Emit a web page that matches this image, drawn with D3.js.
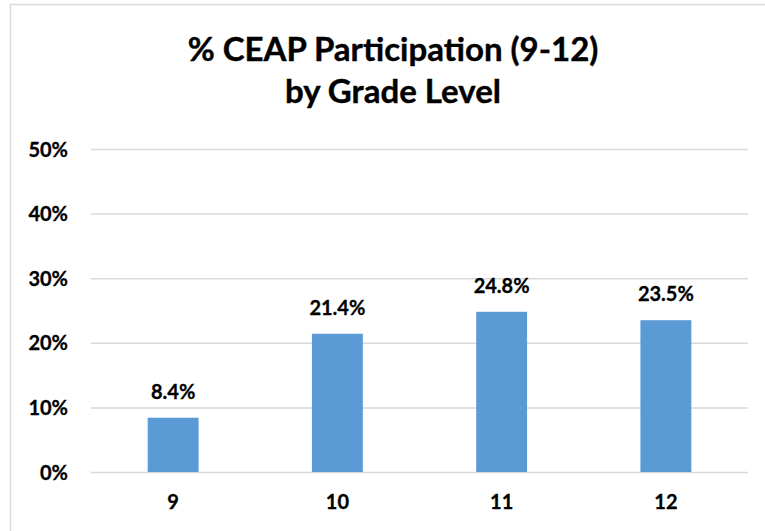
<!DOCTYPE html>
<html>
<head>
<meta charset="utf-8">
<script src="https://cdn.jsdelivr.net/npm/d3@7"></script>
<style>
	html, body { margin: 0; padding: 0; background: #fff; }
	text { font-family: Lato, "Open Sans", sans-serif; font-weight: bold; fill: #000; }
</style>
</head>
<body>
<svg id="chart" width="765" height="531"></svg>
<script>
var grades = [ '9', '10', '11', '12' ];
var participation = [ 0.084, 0.214, 0.248, 0.235 ];
var valueLabels = [ '8.4%', '21.4%', '24.8%', '23.5%' ];
var yTicks = [ 0, 0.1, 0.2, 0.3, 0.4, 0.5 ];
var titleLines = [ '% CEAP Participation (9-12)', 'by Grade Level' ];

var svg = d3.select( '#chart' );

// chart frame, runs off the right and bottom edges like the screenshot
svg.append( 'rect' )
	.attr( 'x', 10.5 ).attr( 'y', 4.5 )
	.attr( 'width', 900 ).attr( 'height', 700 )
	.style( 'fill', '#fff' ).style( 'stroke', '#d9d9d9' ).style( 'stroke-width', 1.5 );

var x = d3.scaleBand().domain( grades ).range( [ 91, 748 ] ).padding( 0 );
var y = d3.scaleLinear().domain( [ 0, 0.5 ] ).range( [ 472, 149 ] );
var barW = x.bandwidth() * 0.31;

svg.selectAll( 'text.title' ).data( titleLines )
	.enter().append( 'text' )
	.attr( 'class', 'title' )
	.attr( 'x', 393 )
	.attr( 'y', function( d, i ) { return 61 + i * 42; } )
	.attr( 'text-anchor', 'middle' )
	.style( 'font-size', '33px' )
	.style( 'stroke', '#000' ).style( 'stroke-width', 0.4 )
	.text( function( d ) { return d; } );

var yAxis = d3.axisLeft( y ).tickValues( yTicks )
	.tickSize( -( 748 - 91 ) ).tickPadding( 23 )
	.tickFormat( d3.format( '.0%' ) );

svg.append( 'g' )
	.attr( 'transform', 'translate(91,0)' )
	.call( yAxis )
	.call( function( g ) {
		g.select( '.domain' ).remove();
		g.selectAll( '.tick line' ).style( 'stroke', '#d9d9d9' ).style( 'stroke-width', 1.5 );
		g.selectAll( '.tick text' ).style( 'font-size', '20px' ).attr( 'dy', '0.35em' )
			.style( 'stroke', '#000' ).style( 'stroke-width', 0.3 );
	} );

svg.selectAll( 'rect.bar' ).data( participation )
	.enter().append( 'rect' )
	.attr( 'class', 'bar' )
	.attr( 'x', function( d, i ) { return x( grades[ i ] ) + ( x.bandwidth() - barW ) / 2; } )
	.attr( 'y', function( d ) { return y( d ); } )
	.attr( 'width', barW )
	.attr( 'height', function( d ) { return y( 0 ) - y( d ); } )
	.style( 'fill', '#5b9bd5' );

svg.selectAll( 'text.value' ).data( participation )
	.enter().append( 'text' )
	.attr( 'class', 'value' )
	.attr( 'x', function( d, i ) { return x( grades[ i ] ) + x.bandwidth() / 2; } )
	.attr( 'y', function( d ) { return y( d ) - 19; } )
	.attr( 'text-anchor', 'middle' )
	.style( 'font-size', '20px' )
	.style( 'stroke', '#000' ).style( 'stroke-width', 0.3 )
	.text( function( d, i ) { return valueLabels[ i ]; } );

var xAxis = d3.axisBottom( x ).tickSize( 0 ).tickPadding( 23 );

svg.append( 'g' )
	.attr( 'transform', 'translate(0,472)' )
	.call( xAxis )
	.call( function( g ) {
		g.select( '.domain' ).remove();
		g.selectAll( '.tick text' ).style( 'font-size', '20px' ).attr( 'dy', '0.71em' )
			.style( 'stroke', '#000' ).style( 'stroke-width', 0.3 );
	} );
</script>
</body>
</html>
